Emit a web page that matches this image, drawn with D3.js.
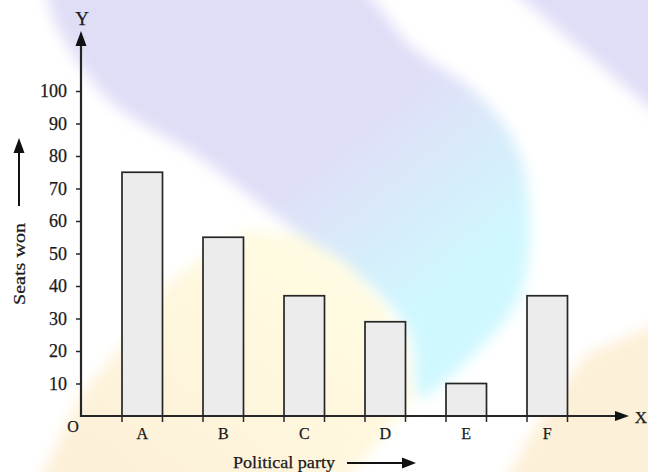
<!DOCTYPE html>
<html>
<head>
<meta charset="utf-8">
<script src="https://cdn.jsdelivr.net/npm/d3@7"></script>
<style>
  html, body { margin: 0; padding: 0; background: #fff; }
  svg { display: block; }
  text { font-family: "Liberation Serif", "Times New Roman", serif; fill: #1a1a1a; stroke: #1a1a1a; stroke-width: 0.25px; }
</style>
</head>
<body>
<script>
// ---- data ----
const categories = ["A", "B", "C", "D", "E", "F"];
const seatsWon = [75, 55, 37, 29, 10, 37];
const yTickValues = [10, 20, 30, 40, 50, 60, 70, 80, 90, 100];
const xAxisTitle = "Political party";
const yAxisTitle = "Seats won";

const W = 648, H = 472;
const svg = d3.select("body").append("svg").attr("width", W).attr("height", H);

const defs = svg.append("defs");
defs.append("filter").attr("id", "blur").attr("x", "-20%").attr("y", "-20%").attr("width", "140%").attr("height", "140%")
  .append("feGaussianBlur").attr("stdDeviation", 7);
const g1 = defs.append("linearGradient").attr("id", "bandGrad").attr("gradientUnits", "userSpaceOnUse")
  .attr("x1", 280).attr("y1", 90).attr("x2", 470).attr("y2", 330);
g1.append("stop").attr("offset", 0.25).attr("stop-color", "#e0def7");
g1.append("stop").attr("offset", 0.85).attr("stop-color", "#cff8fe");
const g2 = defs.append("linearGradient").attr("id", "yelGrad").attr("gradientUnits", "userSpaceOnUse")
  .attr("x1", 300).attr("y1", 240).attr("x2", 120).attr("y2", 470);
g2.append("stop").attr("offset", 0).attr("stop-color", "#fffce2");
g2.append("stop").attr("offset", 1).attr("stop-color", "#fdf0d8");

svg.append("rect").attr("width", W).attr("height", H).attr("fill", "#fff");

// ---- watermark background ----
const bg = svg.append("g").attr("filter", "url(#blur)");
const line = d3.line().curve(d3.curveCatmullRomClosed);
bg.append("path").attr("fill", "url(#bandGrad)").attr("d", line([
  [50, -20], [100, 91], [197, 156], [298, 233], [372, 287], [410, 335], [420, 398],
  [440, 385], [478, 350], [518, 300], [530, 233], [518, 150], [475, 92], [413, 48], [345, -20]
]));
bg.append("path").attr("fill", "#e0def7").attr("d", d3.line()([[500, -20], [670, -20], [670, 125]]) + "Z");
bg.append("path").attr("fill", "url(#yelGrad)").attr("d", d3.line()([
  [35, 490], [81, 395], [120, 348], [165, 285], [215, 248], [250, 230], [300, 235], [345, 262],
  [380, 300], [405, 345], [412, 400], [380, 440], [340, 490]
]) + "Z");
bg.append("path").attr("fill", "#fdf0d8").attr("d", d3.line()([
  [500, 490], [545, 410], [585, 355], [670, 318], [670, 490]
]) + "Z");

// ---- scales ----
const y = d3.scaleLinear().domain([0, 100]).range([416, 91]);
const x = d3.scaleBand().domain(categories).range([101.75, 587.75]).paddingInner(0.5).paddingOuter(0.25);
const x0 = 81, y0 = y(0);
const ink = "#262626";

// ---- bars ----
svg.append("g").selectAll("rect").data(categories).join("rect")
  .attr("x", d => x(d))
  .attr("y", (d, i) => y(seatsWon[i]))
  .attr("width", x.bandwidth())
  .attr("height", (d, i) => y0 - y(seatsWon[i]))
  .attr("fill", "#ececec")
  .attr("stroke", ink)
  .attr("stroke-width", 1.7);

// ---- y axis ----
const yAxis = d3.axisLeft(y).tickValues(yTickValues).tickSize(5).tickPadding(9);
const gy = svg.append("g").attr("transform", `translate(${x0},0)`).call(yAxis);
gy.select(".domain").remove();
gy.selectAll(".tick line").attr("stroke", ink).attr("stroke-width", 1.5);
gy.selectAll(".tick text").attr("font-size", 18);

// ---- x axis ----
const xAxis = d3.axisBottom(x).tickSize(0).tickPadding(12);
const gx = svg.append("g").attr("transform", `translate(0,${y0})`).call(xAxis);
gx.select(".domain").remove();
gx.selectAll(".tick text").attr("font-size", 16);
// small ticks at bar edges
const edges = categories.flatMap(c => [x(c), x(c) + x.bandwidth()]);
svg.append("g").selectAll("line").data(edges).join("line")
  .attr("x1", d => d).attr("x2", d => d).attr("y1", y0).attr("y2", y0 + 6)
  .attr("stroke", ink).attr("stroke-width", 1.5);

// axis lines with arrowheads
svg.append("line").attr("x1", x0).attr("y1", y0 + 1).attr("x2", x0).attr("y2", 40)
  .attr("stroke", ink).attr("stroke-width", 2.2);
svg.append("path").attr("d", `M${x0},31 L${x0 - 5.5},46 L${x0 + 5.5},46 Z`).attr("fill", "#111");
svg.append("line").attr("x1", x0 - 1).attr("y1", y0).attr("x2", 620).attr("y2", y0)
  .attr("stroke", ink).attr("stroke-width", 2.2);
svg.append("path").attr("d", `M629,${y0} L615,${y0 - 5} L615,${y0 + 5} Z`).attr("fill", "#111");

// axis letters
svg.append("text").attr("x", 82).attr("y", 25).attr("text-anchor", "middle").attr("font-size", 19).text("Y");
svg.append("text").attr("x", 641).attr("y", 423).attr("text-anchor", "middle").attr("font-size", 17).text("X");
svg.append("text").attr("x", 73).attr("y", 432).attr("text-anchor", "middle").attr("font-size", 16).text("O");

// x title with arrow
svg.append("text").attr("x", 233).attr("y", 468).attr("font-size", 17).attr("textLength", 102)
  .attr("lengthAdjust", "spacingAndGlyphs").text(xAxisTitle);
svg.append("line").attr("x1", 347).attr("y1", 463).attr("x2", 405).attr("y2", 463).attr("stroke", "#111").attr("stroke-width", 2);
svg.append("path").attr("d", "M416,463 L402,457.5 L402,468.5 Z").attr("fill", "#111");

// y title with arrow
svg.append("text").attr("transform", "translate(25,264) rotate(-90)").attr("text-anchor", "middle")
  .attr("font-size", 17).attr("textLength", 82).attr("lengthAdjust", "spacingAndGlyphs").text(yAxisTitle);
svg.append("line").attr("x1", 19).attr("y1", 206).attr("x2", 19).attr("y2", 150).attr("stroke", "#111").attr("stroke-width", 2);
svg.append("path").attr("d", "M19,138 L13.5,153 L24.5,153 Z").attr("fill", "#111");
</script>
</body>
</html>
